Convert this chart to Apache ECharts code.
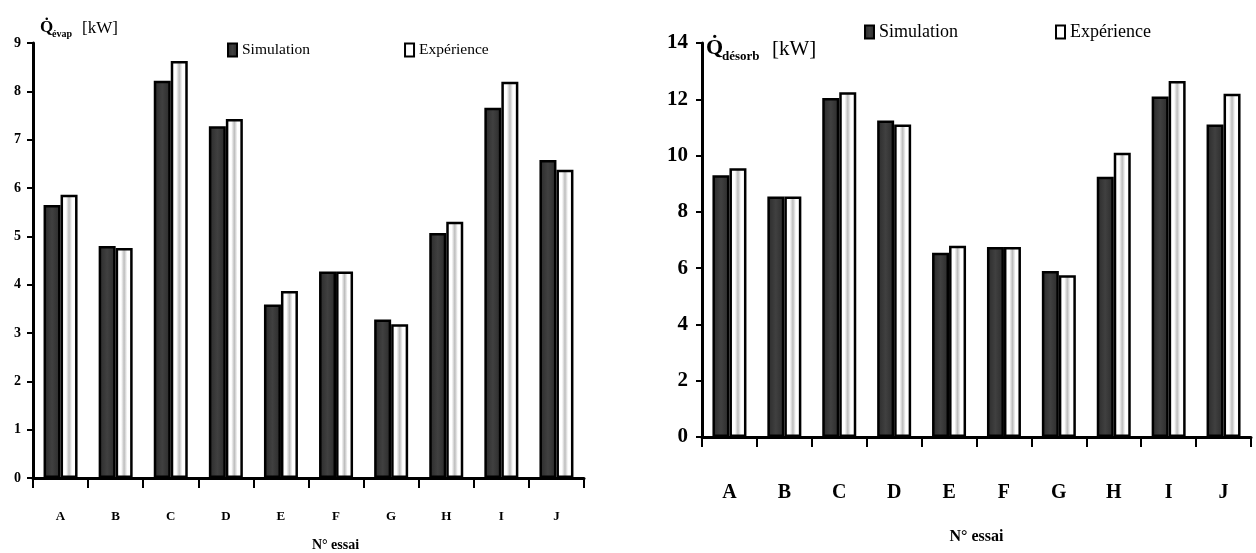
<!DOCTYPE html>
<html>
<head>
<meta charset="utf-8">
<script src="https://cdn.jsdelivr.net/npm/echarts/dist/echarts.min.js"></script>
<style>
  html, body { margin: 0; padding: 0; background: #fff; }
  #chart { width: 1256px; height: 553px; }
</style>
</head>
<body>
<div id="chart"></div>
<script>
// Test labels (N° essai)
const categories = ['A', 'B', 'C', 'D', 'E', 'F', 'G', 'H', 'I', 'J'];

// Evaporator power [kW]
const evapSimulation = [5.65, 4.80, 8.22, 7.28, 3.59, 4.27, 3.28, 5.07, 7.66, 6.58];
const evapExperience = [5.86, 4.76, 8.63, 7.43, 3.87, 4.27, 3.18, 5.30, 8.20, 6.38];

// Desorption power [kW]
const desorbSimulation = [9.30, 8.55, 12.05, 11.25, 6.55, 6.75, 5.90, 9.25, 12.10, 11.10];
const desorbExperience = [9.55, 8.55, 12.25, 11.10, 6.80, 6.75, 5.75, 10.10, 12.65, 12.20];

// Value-axis ranges [min, max, step]
const evapAxis = [0, 9, 1];
const desorbAxis = [0, 14, 2];

const serif = '"Liberation Serif", "DejaVu Serif", serif';

const darkFill = new echarts.graphic.LinearGradient(0, 0, 1, 0, [
  { offset: 0, color: '#2a2a2a' },
  { offset: 0.5, color: '#404040' },
  { offset: 1, color: '#2a2a2a' }
]);
const lightFill = new echarts.graphic.LinearGradient(0, 0, 1, 0, [
  { offset: 0, color: '#ffffff' },
  { offset: 0.32, color: '#ffffff' },
  { offset: 0.5, color: '#bdbdbd' },
  { offset: 0.68, color: '#ffffff' },
  { offset: 1, color: '#ffffff' }
]);

function barSeries(name, data, axisIndex, fill, width) {
  return {
    name: name,
    type: 'bar',
    xAxisIndex: axisIndex,
    yAxisIndex: axisIndex,
    data: data,
    barWidth: width,
    barGap: '0%',
    itemStyle: { color: fill, borderColor: '#000', borderWidth: 2.5 },
    emphasis: { disabled: true }
  };
}

function categoryAxis(gridIndex, fontSize, labelMargin, nameGap, namePad, nameSize) {
  return {
    type: 'category',
    gridIndex: gridIndex,
    data: categories,
    axisLine: { lineStyle: { color: '#000', width: 3 } },
    axisTick: { show: true, length: 10, lineStyle: { color: '#000', width: 2 } },
    axisLabel: {
      color: '#000', fontFamily: serif, fontWeight: 'bold',
      fontSize: fontSize, margin: labelMargin
    },
    name: 'N° essai',
    nameLocation: 'middle',
    nameGap: nameGap,
    nameTextStyle: {
      color: '#000', fontFamily: serif, fontWeight: 'bold',
      fontSize: nameSize, padding: namePad
    }
  };
}

function valueAxis(gridIndex, range, fontSize, labelMargin) {
  return {
    type: 'value',
    gridIndex: gridIndex,
    min: range[0],
    max: range[1],
    interval: range[2],
    splitLine: { show: false },
    axisLine: { show: true, lineStyle: { color: '#000', width: 3 } },
    axisTick: { show: true, length: 6, lineStyle: { color: '#000', width: 2 } },
    axisLabel: {
      color: '#000', fontFamily: serif, fontWeight: 'bold',
      fontSize: fontSize, margin: labelMargin
    }
  };
}

function legend(left, top, fontSize, gap, textGap) {
  return {
    left: left,
    top: top,
    orient: 'horizontal',
    data: [
      { name: 'Simulation' },
      { name: 'Expérience', itemStyle: { color: '#ffffff' } }
    ],
    icon: 'rect',
    itemWidth: 9,
    itemHeight: 13,
    itemGap: gap,
    itemTextGap: textGap,
    selectedMode: false,
    textStyle: { color: '#000', fontFamily: serif, fontSize: fontSize }
  };
}

const titleStyle = (size, weight) => ({
  fill: '#000', fontFamily: serif, fontSize: size, fontWeight: weight
});

const chart = echarts.init(document.getElementById('chart'), null, { renderer: 'canvas' });

chart.setOption({
  animation: false,
  backgroundColor: '#fff',
  grid: [
    { left: 33, top: 43, width: 551, height: 435, containLabel: false, outerBoundsMode: 'none' },
    { left: 702, top: 43, width: 549, height: 394, containLabel: false, outerBoundsMode: 'none' }
  ],
  legend: [
    legend(222, 37, 15.5, 94, 10),
    legend(859, 18, 18, 97, 14)
  ],
  xAxis: [
    categoryAxis(0, 13, 32, 60, [0, 0, 0, 54], 14),
    categoryAxis(1, 20, 46, 92, [0, 0, 0, 0], 16)
  ],
  yAxis: [
    valueAxis(0, evapAxis, 14, 12),
    valueAxis(1, desorbAxis, 21, 14)
  ],
  series: [
    barSeries('Simulation', evapSimulation, 0, darkFill, 17),
    barSeries('Expérience', evapExperience, 0, lightFill, 17),
    barSeries('Simulation', desorbSimulation, 1, darkFill, 17),
    barSeries('Expérience', desorbExperience, 1, lightFill, 17)
  ],
  graphic: [
    // Q̇évap [kW]
    { type: 'text', left: 40, top: 19, style: Object.assign({ text: 'Q\u0307' }, titleStyle(17, 'bold')) },
    { type: 'text', left: 52, top: 29, style: Object.assign({ text: 'évap' }, titleStyle(10, 'bold')) },
    { type: 'text', left: 82, top: 20, style: Object.assign({ text: '[kW]' }, titleStyle(17, 'normal')) },
    // Q̇désorb [kW]
    { type: 'text', left: 706, top: 37, style: Object.assign({ text: 'Q\u0307' }, titleStyle(22, 'bold')) },
    { type: 'text', left: 722, top: 50, style: Object.assign({ text: 'désorb' }, titleStyle(13, 'bold')) },
    { type: 'text', left: 772, top: 39, style: Object.assign({ text: '[kW]' }, titleStyle(21, 'normal')) }
  ]
});
</script>
</body>
</html>
